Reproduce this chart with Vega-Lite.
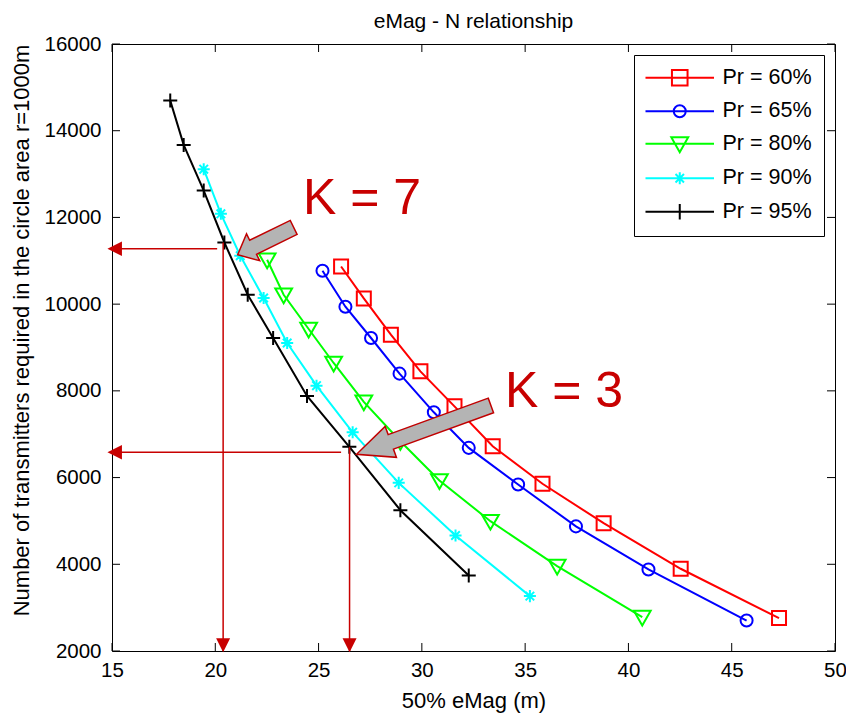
{
  "$schema": "https://vega.github.io/schema/vega-lite/v6.json",
  "width": 723,
  "height": 607,
  "autosize": {"type": "none"},
  "padding": {"left": 112, "top": 44, "right": 11, "bottom": 63},
  "background": "white",
  "title": {"text": "eMag - N relationship", "fontSize": 21, "fontWeight": "normal", "font": "Liberation Sans", "color": "black", "baseline": "alphabetic", "offset": -15, "anchor": "middle"},
  "config": {
    "view": {"stroke": "black", "strokeWidth": 1, "fill": "white"},
    "font": "Liberation Sans",
    "axis": {"labelColor": "black", "titleColor": "black", "labelFont": "Liberation Sans", "titleFont": "Liberation Sans", "titleFontWeight": "normal"}
  },
  "resolve": {"scale": {"shape": "independent"}, "legend": {"color": "independent", "shape": "independent"}},
  "datasets": {
    "series": [
      {"series": "Pr = 60%", "x": 26.09, "y": 10869}, {"series": "Pr = 60%", "x": 27.19, "y": 10132}, {"series": "Pr = 60%", "x": 28.50, "y": 9295}, {"series": "Pr = 60%", "x": 29.93, "y": 8450}, {"series": "Pr = 60%", "x": 31.58, "y": 7643}, {"series": "Pr = 60%", "x": 33.43, "y": 6722}, {"series": "Pr = 60%", "x": 35.84, "y": 5858}, {"series": "Pr = 60%", "x": 38.80, "y": 4948}, {"series": "Pr = 60%", "x": 42.53, "y": 3897}, {"series": "Pr = 60%", "x": 47.29, "y": 2759},
      {"series": "Pr = 65%", "x": 25.19, "y": 10770}, {"series": "Pr = 65%", "x": 26.30, "y": 9940}, {"series": "Pr = 65%", "x": 27.54, "y": 9219}, {"series": "Pr = 65%", "x": 28.92, "y": 8397}, {"series": "Pr = 65%", "x": 30.58, "y": 7505}, {"series": "Pr = 65%", "x": 32.27, "y": 6685}, {"series": "Pr = 65%", "x": 34.66, "y": 5839}, {"series": "Pr = 65%", "x": 37.46, "y": 4874}, {"series": "Pr = 65%", "x": 40.97, "y": 3881}, {"series": "Pr = 65%", "x": 45.72, "y": 2703},
      {"series": "Pr = 80%", "x": 22.51, "y": 11023}, {"series": "Pr = 80%", "x": 23.31, "y": 10217}, {"series": "Pr = 80%", "x": 24.52, "y": 9427}, {"series": "Pr = 80%", "x": 25.73, "y": 8643}, {"series": "Pr = 80%", "x": 27.19, "y": 7745}, {"series": "Pr = 80%", "x": 28.96, "y": 6837}, {"series": "Pr = 80%", "x": 30.85, "y": 5932}, {"series": "Pr = 80%", "x": 33.32, "y": 4994}, {"series": "Pr = 80%", "x": 36.55, "y": 3957}, {"series": "Pr = 80%", "x": 40.67, "y": 2782},
      {"series": "Pr = 90%", "x": 19.44, "y": 13113}, {"series": "Pr = 90%", "x": 20.27, "y": 12083}, {"series": "Pr = 90%", "x": 21.21, "y": 11116}, {"series": "Pr = 90%", "x": 22.34, "y": 10141}, {"series": "Pr = 90%", "x": 23.48, "y": 9104}, {"series": "Pr = 90%", "x": 24.90, "y": 8120}, {"series": "Pr = 90%", "x": 26.65, "y": 7044}, {"series": "Pr = 90%", "x": 28.88, "y": 5878}, {"series": "Pr = 90%", "x": 31.63, "y": 4664}, {"series": "Pr = 90%", "x": 35.23, "y": 3266},
      {"series": "Pr = 95%", "x": 17.82, "y": 14694}, {"series": "Pr = 95%", "x": 18.47, "y": 13673}, {"series": "Pr = 95%", "x": 19.44, "y": 12620}, {"series": "Pr = 95%", "x": 20.44, "y": 11422}, {"series": "Pr = 95%", "x": 21.57, "y": 10217}, {"series": "Pr = 95%", "x": 22.80, "y": 9219}, {"series": "Pr = 95%", "x": 24.44, "y": 7883}, {"series": "Pr = 95%", "x": 26.49, "y": 6708}, {"series": "Pr = 95%", "x": 28.96, "y": 5247}, {"series": "Pr = 95%", "x": 32.27, "y": 3743}
    ],
    "xticks": [{"v": 15}, {"v": 20}, {"v": 25}, {"v": 30}, {"v": 35}, {"v": 40}, {"v": 45}, {"v": 50}],
    "yticks": [{"v": 2000}, {"v": 4000}, {"v": 6000}, {"v": 8000}, {"v": 10000}, {"v": 12000}, {"v": 14000}, {"v": 16000}],
    "guides": [
      {"x": 15, "y": 11277, "x2": 20.09, "y2": 11277},
      {"x": 20.38, "y": 11422, "x2": 20.38, "y2": 2000},
      {"x": 15, "y": 6584, "x2": 26.09, "y2": 6584},
      {"x": 26.5, "y": 6708, "x2": 26.5, "y2": 2000}
    ],
    "lheads": [{"x": 15.13, "y": 11277}, {"x": 15.13, "y": 6584}],
    "dheads": [{"x": 20.38, "y": 2130}, {"x": 26.5, "y": 2130}],
    "arrow7": [{"x": 22.44, "y": 11454}],
    "arrow3": [{"x": 30.09, "y": 7100}],
    "klabels": [{"x": 27.10, "y": 12429, "text": "K = 7"}, {"x": 36.88, "y": 7982, "text": "K = 3"}]
  },
  "layer": [
    {
      "data": {"name": "series"},
      "mark": {"type": "line", "strokeWidth": 2},
      "encoding": {
        "x": {"field": "x", "type": "quantitative", "scale": {"domain": [15, 50], "nice": false, "zero": false},
          "axis": {"title": "50% eMag (m)", "values": [15, 20, 25, 30, 35, 40, 45, 50], "format": "d", "ticks": false, "grid": false, "domain": false, "labelFontSize": 20.5, "labelPadding": 9, "labelFlush": false, "labelOverlap": false, "titleFontSize": 22, "titlePadding": 10}},
        "y": {"field": "y", "type": "quantitative", "scale": {"domain": [2000, 16000], "nice": false, "zero": false},
          "axis": {"title": "Number of transmitters required in the circle area r=1000m", "values": [2000, 4000, 6000, 8000, 10000, 12000, 14000, 16000], "format": "d", "ticks": false, "grid": false, "domain": false, "labelFontSize": 20.5, "labelPadding": 11, "labelFlush": false, "labelOverlap": false, "titleFontSize": 22, "titlePadding": 10, "titleY": 286}},
        "color": {"field": "series", "type": "nominal", "scale": {"domain": ["Pr = 60%", "Pr = 65%", "Pr = 80%", "Pr = 90%", "Pr = 95%"], "range": ["#ff0000", "#0000ff", "#00ff00", "#00ffff", "#000000"]}, "legend": null}
      }
    },
    {
      "data": {"name": "series"},
      "mark": {"type": "point", "filled": false, "strokeWidth": 2, "size": 196, "opacity": 1},
      "encoding": {
        "x": {"field": "x", "type": "quantitative"},
        "y": {"field": "y", "type": "quantitative"},
        "color": {"field": "series", "type": "nominal", "legend": null},
        "shape": {"field": "series", "type": "nominal", "legend": null,
          "scale": {"domain": ["Pr = 60%", "Pr = 65%", "Pr = 80%", "Pr = 90%", "Pr = 95%"], "range": ["M-1,-1L1,-1L1,1L-1,1Z", "M0.86,0A0.86,0.86,0,1,1,-0.86,0A0.86,0.86,0,1,1,0.86,0Z", "M-1.2,-0.9L1.2,-0.9L0,1.2Z", "M-0.86,0L0.86,0M0,-0.86L0,0.86M-0.61,-0.61L0.61,0.61M-0.61,0.61L0.61,-0.61", "M-1,0L1,0M0,-1L0,1"]}}
      }
    },
    {
      "data": {"name": "series"},
      "mark": {"type": "point", "filled": false, "strokeWidth": 2, "size": 169, "opacity": 0},
      "encoding": {
        "x": {"field": "x", "type": "quantitative"},
        "y": {"field": "y", "type": "quantitative"},
        "color": {"field": "series", "type": "nominal",
          "legend": {"title": null, "orient": "top-right", "offset": 11, "padding": 12, "strokeColor": "black", "fillColor": "white", "labelFontSize": 21.5, "labelFont": "Liberation Sans", "labelColor": "black", "symbolSize": 169, "symbolStrokeWidth": 2, "symbolOpacity": 1, "symbolFillColor": "transparent", "symbolOffset": 23, "labelOffset": 32, "rowPadding": 9.5}},
        "shape": {"field": "series", "type": "nominal",
          "scale": {"domain": ["Pr = 60%", "Pr = 65%", "Pr = 80%", "Pr = 90%", "Pr = 95%"], "range": ["M-5.27,0L5.27,0M-1.2,-1.2L1.2,-1.2L1.2,1.2L-1.2,1.2Z", "M-5.27,0L5.27,0M0.92,0A0.92,0.92,0,1,1,-0.92,0A0.92,0.92,0,1,1,0.92,0Z", "M-5.27,0L5.27,0M-1.3,-1L1.3,-1L0,1.3Z", "M-5.27,0L5.27,0M-0.92,0L0.92,0M0,-0.92L0,0.92M-0.65,-0.65L0.65,0.65M-0.65,0.65L0.65,-0.65", "M-5.27,0L5.27,0M0,-1.2L0,1.2"]},
          "legend": {"title": null, "orient": "top-right", "offset": 11, "padding": 12, "strokeColor": "black", "fillColor": "white", "labelFontSize": 21.5, "labelFont": "Liberation Sans", "labelColor": "black", "symbolSize": 169, "symbolStrokeWidth": 2, "symbolOpacity": 1, "symbolFillColor": "transparent", "symbolOffset": 23, "labelOffset": 32, "rowPadding": 9.5}}
      }
    },
    {
      "data": {"name": "xticks"},
      "mark": {"type": "point", "shape": "M0,0L0,1", "size": 256, "filled": false, "color": "black", "strokeWidth": 1, "opacity": 1},
      "encoding": {"x": {"field": "v", "type": "quantitative"}, "y": {"datum": 16000}}
    },
    {
      "data": {"name": "xticks"},
      "mark": {"type": "point", "shape": "M0,0L0,-1", "size": 256, "filled": false, "color": "black", "strokeWidth": 1, "opacity": 1},
      "encoding": {"x": {"field": "v", "type": "quantitative"}, "y": {"datum": 2000}}
    },
    {
      "data": {"name": "yticks"},
      "mark": {"type": "point", "shape": "M0,0L1,0", "size": 256, "filled": false, "color": "black", "strokeWidth": 1, "opacity": 1},
      "encoding": {"y": {"field": "v", "type": "quantitative"}, "x": {"datum": 15}}
    },
    {
      "data": {"name": "yticks"},
      "mark": {"type": "point", "shape": "M0,0L-1,0", "size": 256, "filled": false, "color": "black", "strokeWidth": 1, "opacity": 1},
      "encoding": {"y": {"field": "v", "type": "quantitative"}, "x": {"datum": 50}}
    },
    {
      "data": {"name": "guides"},
      "mark": {"type": "rule", "color": "#c80000", "strokeWidth": 1.5},
      "encoding": {"x": {"field": "x", "type": "quantitative"}, "y": {"field": "y", "type": "quantitative"}, "x2": {"field": "x2"}, "y2": {"field": "y2"}}
    },
    {
      "data": {"name": "lheads"},
      "mark": {"type": "point", "shape": "M-1,0L1,-1L1,1Z", "size": 210, "filled": true, "color": "#c80000", "opacity": 1, "strokeWidth": 0},
      "encoding": {"x": {"field": "x", "type": "quantitative"}, "y": {"field": "y", "type": "quantitative"}}
    },
    {
      "data": {"name": "dheads"},
      "mark": {"type": "point", "shape": "M-1,-1L1,-1L0,1Z", "size": 196, "filled": true, "color": "#c80000", "opacity": 1, "strokeWidth": 0},
      "encoding": {"x": {"field": "x", "type": "quantitative"}, "y": {"field": "y", "type": "quantitative"}}
    },
    {
      "data": {"name": "arrow7"},
      "mark": {"type": "point", "shape": "M-1,-0.25L0.45,-0.25L0.45,-0.48L1,0L0.45,0.48L0.45,0.25L-1,0.25Z", "size": 3881, "angle": 154, "filled": true, "fill": "#b4b4b4", "stroke": "#c00000", "strokeWidth": 1.5, "opacity": 1},
      "encoding": {"x": {"field": "x", "type": "quantitative"}, "y": {"field": "y", "type": "quantitative"}}
    },
    {
      "data": {"name": "arrow3"},
      "mark": {"type": "point", "shape": "M-1,-0.108L0.49,-0.108L0.49,-0.23L1,0L0.49,0.23L0.49,0.108L-1,0.108Z", "size": 20449, "angle": 160, "filled": true, "fill": "#b4b4b4", "stroke": "#c00000", "strokeWidth": 1.5, "opacity": 1},
      "encoding": {"x": {"field": "x", "type": "quantitative"}, "y": {"field": "y", "type": "quantitative"}}
    },
    {
      "data": {"name": "klabels"},
      "mark": {"type": "text", "font": "Liberation Sans", "fontSize": 50, "color": "#c80000", "align": "center", "baseline": "middle"},
      "encoding": {"x": {"field": "x", "type": "quantitative"}, "y": {"field": "y", "type": "quantitative"}, "text": {"field": "text"}}
    }
  ]
}
